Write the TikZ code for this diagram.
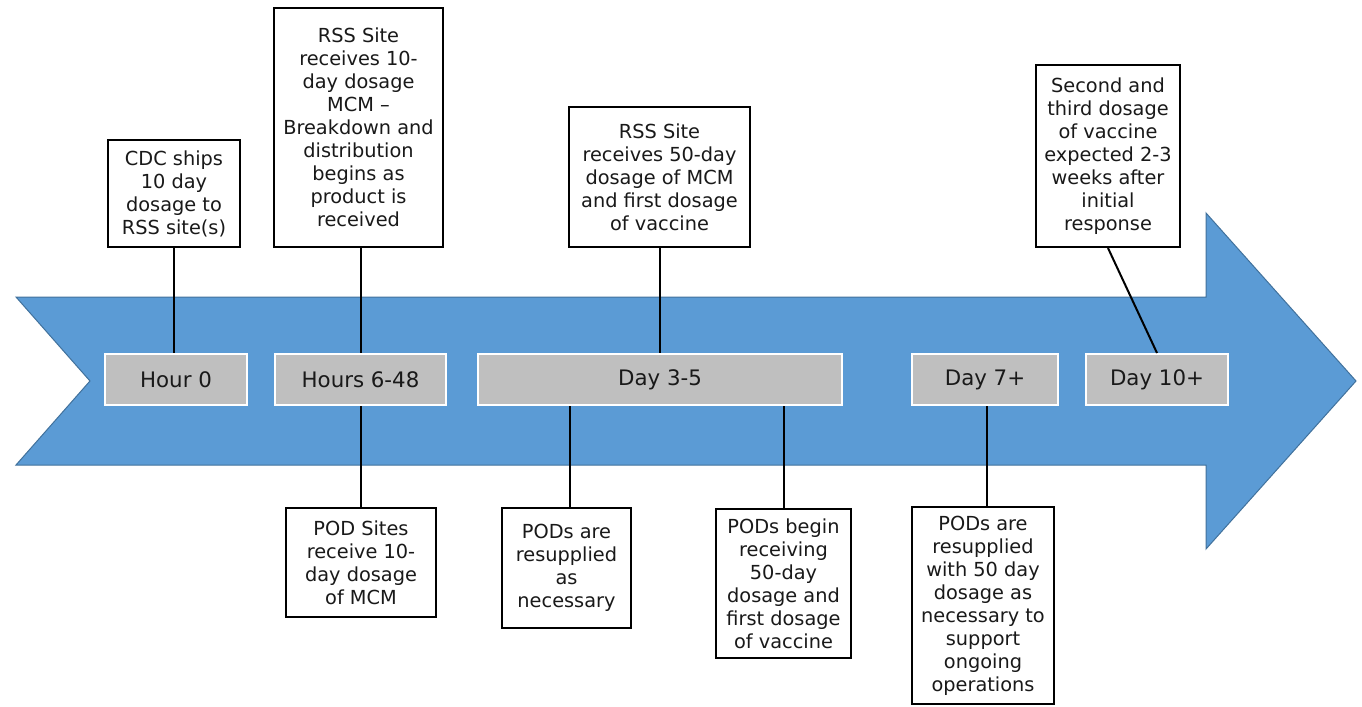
\documentclass[tikz,border=0pt]{standalone}
\usepackage{fontspec}
\setmainfont{DejaVu Sans}
\usepackage{tikz}
\usetikzlibrary{positioning}

\definecolor{arrowblue}{HTML}{5B9BD5}
\definecolor{arrowedge}{HTML}{41719C}
\definecolor{stagegray}{HTML}{BFBFBF}

\begin{document}
\begin{tikzpicture}[x=0.75pt,y=-0.75pt,
        note/.style={draw=black, line width=1.6pt, fill=white, align=center, inner sep=0pt,
            text=black!90, font=\fontsize{14.5}{17.25}\selectfont},
        stage/.style={draw=white, line width=1.5pt, fill=stagegray, inner sep=0pt,
            minimum height=38.25pt, text=black!90, font=\fontsize{16}{18}\selectfont},
        link/.style={draw=black, line width=1.5pt}]
        \useasboundingbox (0,0) rectangle (1362,706);

        % big timeline arrow
        \draw[fill=arrowblue, draw=arrowedge, line width=0.75pt]
            (16,297) -- (1206,297) -- (1206,213) -- (1356,381) -- (1206,549)
            -- (1206,465) -- (16,465) -- (90,381) -- cycle;

        % stages
        \node[stage, minimum width=106.5pt] (hour0) at (176,379.5) {Hour 0};
        \node[stage, minimum width=128.25pt] (hours) at (360.5,379.5) {Hours 6-48};
        \node[stage, minimum width=273pt] (day35) at (660,379.5) {Day 3-5};
        \node[stage, minimum width=109.5pt] (day7) at (985,379.5) {Day 7+};
        \node[stage, minimum width=106.5pt] (day10) at (1157,379.5) {Day 10+};

        % notes above
        \node[note, minimum width=99pt, minimum height=80.25pt] (cdc) at (174,193.5)
            {CDC ships\\10 day\\dosage to\\RSS site(s)};
        \node[note, minimum width=126.75pt, minimum height=179.25pt] (rssten) at (358.5,127.5)
            {RSS Site\\receives 10-\\day dosage\\MCM --\\Breakdown and\\distribution\\begins as\\product is\\received};
        \node[note, minimum width=135.75pt, minimum height=105pt] (rssfifty) at (659.5,177)
            {RSS Site\\receives 50-day\\dosage of MCM\\and first dosage\\of vaccine};
        \node[note, minimum width=108pt, minimum height=136.5pt] (second) at (1108,156)
            {Second and\\third dosage\\of vaccine\\expected 2-3\\weeks after\\initial\\response};

        % notes below
        \node[note, minimum width=112.5pt, minimum height=81.75pt] (podsites) at (361,562.5)
            {POD Sites\\receive 10-\\day dosage\\of MCM};
        \node[note, minimum width=96.75pt, minimum height=90pt] (podresup) at (566.5,568)
            {PODs are\\resupplied\\as\\necessary};
        \node[note, minimum width=101.25pt, minimum height=111.75pt] (podbegin) at (783.5,583.5)
            {PODs begin\\receiving\\50-day\\dosage and\\first dosage\\of vaccine};
        \node[note, minimum width=106.5pt, minimum height=147.75pt] (podfifty) at (983,605.5)
            {PODs are\\resupplied\\with 50 day\\dosage as\\necessary to\\support\\ongoing\\operations};

        % connectors
        \draw[link] (cdc.south) -- (cdc.south |- hour0.north);
        \draw[link] ([xshift=1.5]rssten.south) -- ([xshift=1.5]rssten.south |- hours.north);
        \draw[link] (rssfifty.south) -- (rssfifty.south |- day35.north);
        \draw[link] (second.south) -- (day10.north);
        \draw[link] (hours.south) -- (hours.south |- podsites.north);
        \draw[link] ([xshift=2.5]podresup.north) -- ([xshift=2.5]podresup.north |- day35.south);
        \draw[link] (podbegin.north) -- (podbegin.north |- day35.south);
        \draw[link] ([xshift=3]podfifty.north) -- ([xshift=3]podfifty.north |- day7.south);
    \end{tikzpicture}
\end{document}
